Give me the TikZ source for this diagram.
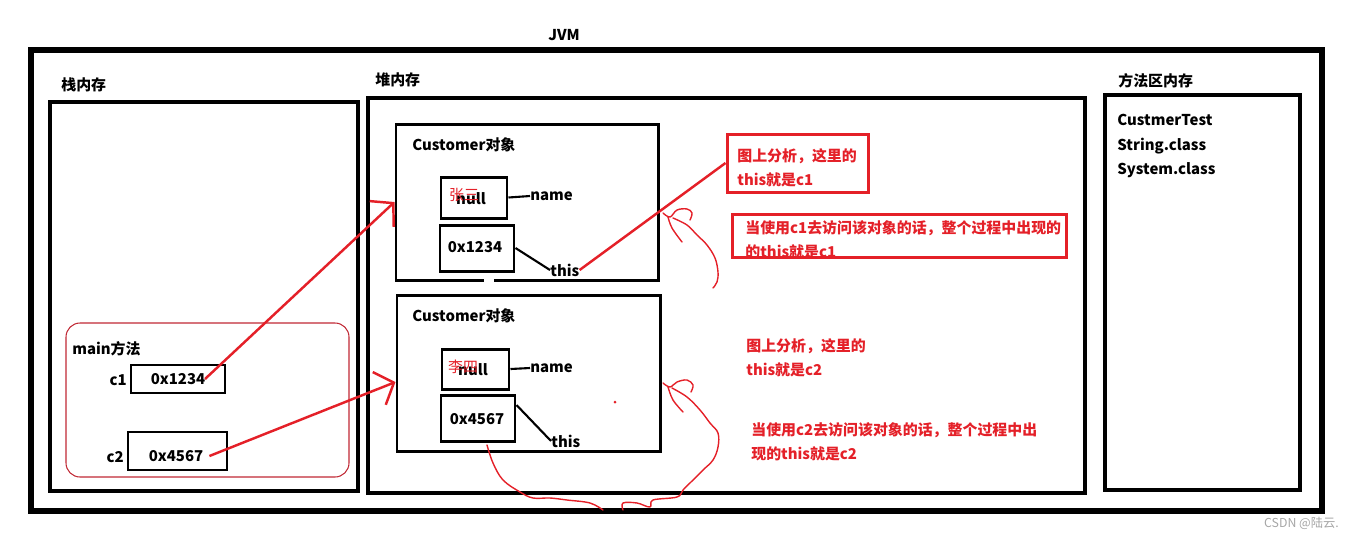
\documentclass[tikz,border=0pt]{standalone}
\usepackage{fontspec}
\setmainfont{Noto Sans CJK SC}
\usepackage{xcolor}
\definecolor{inkred}{RGB}{228,32,40}
\definecolor{darkred}{RGB}{192,40,52}
\usetikzlibrary{
  arrows.meta,
  positioning,
  fit,
  calc
}

\begin{document}
\begin{tikzpicture}[
  x=0.02cm, y=-0.02cm,
  font=\fontsize{8.5}{10}\selectfont\bfseries,
  frame/.style={draw, line width=2.6pt, inner sep=0pt},
  objbox/.style={draw, line width=1.7pt, inner sep=0pt},
  valbox/.style={draw, line width=0.6pt, inner sep=0pt},
  lbl/.style={inner sep=0pt, anchor=west},
  note/.style={lbl, text=inkred, align=left, font=\fontsize{8.5}{13.6}\selectfont\bfseries},
  notebox/.style={draw=inkred, line width=1.7pt, inner sep=0pt},
  link/.style={line width=1.2pt},
  redarr/.style={-{Straight Barb[length=9pt,width=20pt]}, draw=inkred, line width=1.4pt},
  scribble/.style={draw=inkred, line width=0.8pt, line join=round, line cap=round}
]
  \useasboundingbox (0,0) rectangle (1356,539);

  % outer frames
  \node[frame, line width=2.9pt, fit={(31,50)(1322,511)}] (jvm) {};
  \node[frame, fit={(50,102)(358,491)}] (stack) {};
  \node[frame, fit={(368,98)(1085,493)}] (heap) {};
  \node[frame, fit={(1105,95)(1300,490)}] (method) {};
  \node (jvmlbl) at (564,35) {JVM};
  \node[lbl] (stacklbl) at (61,85) {栈内存};
  \node[lbl] (heaplbl) at (375,80) {堆内存};
  \node[lbl] (methodlbl) at (1118,81) {方法区内存};
  \node[lbl, align=left, font=\fontsize{8.5}{14.2}\selectfont\bfseries] (classes) at (1117,146) {CustmerTest\\String.class\\System.class};

  % main method
  \node[draw=darkred, line width=0.6pt, rounded corners=8pt, inner sep=0pt, fit={(66,323)(349,477)}] (mainfr) {};
  \node[lbl] (mainlbl) at (72,349) {main方法};
  \node[valbox, fit={(131,365)(225,393)}] (v1) {};
  \node (v1txt) at (178,379) {0x1234};
  \node[anchor=east, inner sep=0pt] (c1) at (127,380) {c1};
  \node[valbox, fit={(128,432)(227,470)}] (v2) {};
  \node (v2txt) at (176,456) {0x4567};
  \node[anchor=east, inner sep=0pt] (c2) at (124,457) {c2};

  % first object
  \node[objbox, fit={(396,124)(658,280)}] (obj1) {};
  \fill[white] (484,276) rectangle (494,286);
  \node[lbl] (obj1lbl) at (412,145) {Customer对象};
  \node[objbox, fit={(441,177)(507,218)}] (n1) {};
  \node (n1txt) at (471,199) {null};
  \node[text=inkred, font=\fontsize{8.5}{10}\selectfont] (n1val) at (464,195) {张三};
  \node[lbl] (nm1) at (530,196) {name};
  \node[objbox, fit={(440,225)(514,271)}] (p1) {};
  \node (p1txt) at (475,247) {0x1234};
  \node[lbl] (th1) at (550,270) {this};
  \draw[link] (n1.east) -- (nm1.west);
  \draw[link] (p1.east) -- (th1.west);

  % second object
  \node[objbox, fit={(397,295)(660,451)}] (obj2) {};
  \node[lbl] (obj2lbl) at (412,316) {Customer对象};
  \node[objbox, fit={(442,349)(509,389)}] (n2) {};
  \node (n2txt) at (473,370) {null};
  \node[text=inkred, font=\fontsize{8.5}{10}\selectfont] (n2val) at (463,367) {李四};
  \node[lbl] (nm2) at (530,368) {name};
  \node[objbox, fit={(441,395)(515,441)}] (p2) {};
  \node (p2txt) at (477,419) {0x4567};
  \node[lbl] (th2) at (551,441) {this};
  \draw[link] (n2.east) -- (nm2.west);
  \draw[link] ($(p2.east)+(0,-13)$) -- (th2.west);

  % references
  \draw[redarr] ($(v1txt)+(27,0)$) -- (obj1.west);
  \draw[redarr] (v2txt.east) -- ($(obj2.west)+(0,9)$);

  % notes for c1
  \node[notebox, fit={(727,134)(868,192)}] (c1box) {};
  \node[note] (c1note) at (737,168) {图上分析，这里的\\this就是c1};
  \draw[inkred, line width=1.4pt] (th1.east) -- (c1box.west);
  \node[note] (c1long) at (745,240) {当使用c1去访问该对象的话，整个过程中出现的\\的this就是c1};
  \node[notebox, fit={(732,214)(1066,257)}] (c1longbox) {};

  % notes for c2
  \node[note] (c2note) at (746,358) {图上分析，这里的\\this就是c2};
  \node[note] (c2long) at (751,442) {当使用c2去访问该对象的话，整个过程中出\\现的this就是c2};

  % scribbles
  \draw[scribble] plot[smooth, tension=0.6] coordinates {(663,213) (670,217) (677,210) (687,209) (692,213) (690,220)};
  \draw[scribble] plot[smooth, tension=0.6] coordinates {(668,217) (672,228) (682,242)};
  \draw[scribble] plot[smooth, tension=0.6] coordinates {(673,218) (687,225) (697,235) (707,245) (715,258) (718,272) (717,282) (713,288)};
  \draw[scribble] plot[smooth, tension=0.6] coordinates {(663,383) (670,387) (677,382) (687,380) (693,385) (691,392)};
  \draw[scribble] plot[smooth, tension=0.6] coordinates {(668,387) (673,400) (683,412)};
  \draw[scribble] plot[smooth, tension=0.6] coordinates {(672,388) (687,397) (700,410) (710,423) (718,433) (718,447) (713,460) (703,470) (693,480) (683,490) (677,497) (653,500) (650,507) (637,503) (623,503) (623,510)};
  \draw[scribble] plot[smooth, tension=0.6] coordinates {(487,445) (493,463) (503,480) (520,492) (533,498) (550,498) (567,500) (590,503) (603,510)};
  \fill[inkred] (615,402) circle (1.5);

  \node[anchor=east, font=\fontsize{7}{8}\selectfont, text=gray!70] (mark) at (1345,523) {CSDN @陆云.};
\end{tikzpicture}
\end{document}
